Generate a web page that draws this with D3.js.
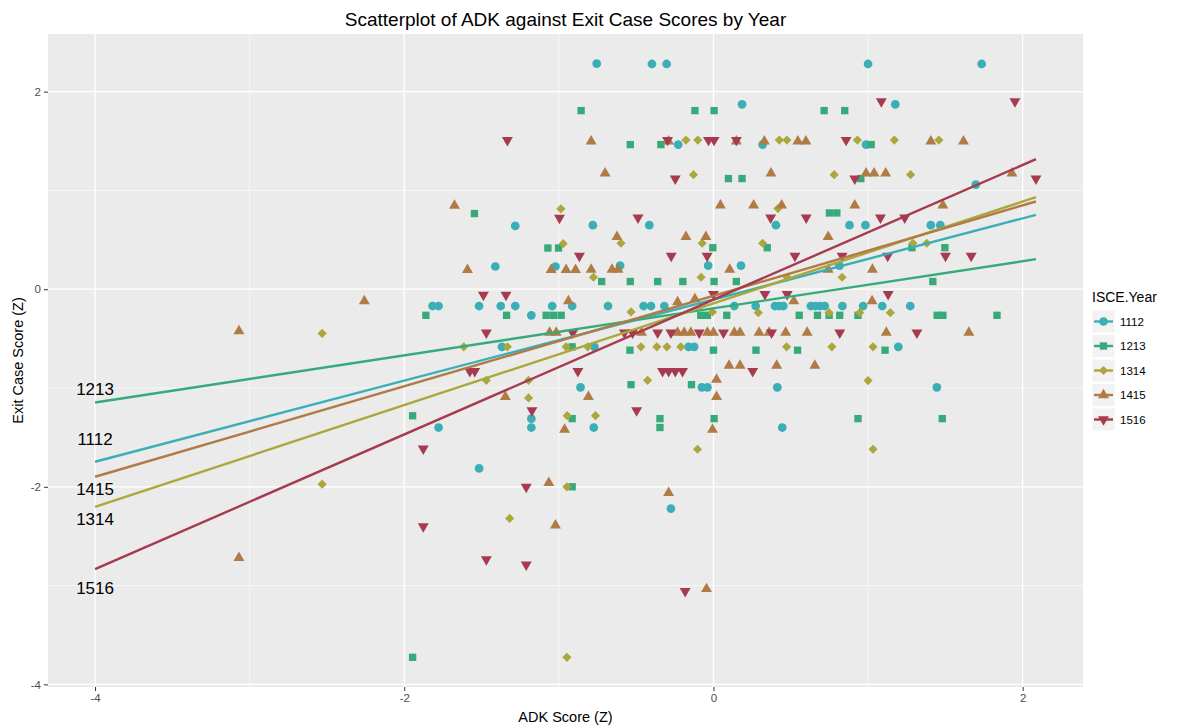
<!DOCTYPE html>
<html>
<head>
<meta charset="utf-8">
<script src="https://cdn.jsdelivr.net/npm/d3@7"></script>
<style>
  body { margin: 0; background: #fff; }
  text { font-family: "Liberation Sans", Arial, sans-serif; }
</style>
</head>
<body>
<div id="scatter"></div>
<script>
// categories
var years = ["1112", "1213", "1314", "1415", "1516"];
var colors = ["#3aafb6", "#37aa7a", "#aaa83c", "#b07b45", "#a63b50"];

// points for each year: [ADK score, exit case score]
var pts1112 = [[-0.755,2.283],[-0.398,2.28],[-0.303,2.28],[1.0,2.28],[1.735,2.28],[0.185,1.872],[1.176,1.872],
  [-0.228,1.464],[0.318,1.464],[0.987,1.464],[1.697,1.059],[-0.78,0.648],[-0.415,0.648],[0.404,0.648],[0.88,0.648],
  [0.983,0.648],[1.406,0.648],[1.467,0.648],[-0.604,0.239],[-0.034,0.239],[0.178,0.239],[0.815,0.239],
  [-1.282,0.641],[-1.411,0.23],[-1.022,0.23],
  [-1.817,-0.17],[-1.778,-0.17],[-1.516,-0.17],[-1.376,-0.17],[-1.282,-0.17],[-1.043,-0.17],[-0.914,-0.17],
  [-0.682,-0.17],[-0.452,-0.17],[-0.404,-0.17],[-0.318,-0.17],[-1.178,-0.264],[-1.368,-0.583],[-0.77,-0.583],
  [-0.161,-0.583],[-0.125,-0.583],[-0.86,-0.993],[-0.075,-0.993],[-0.039,-0.993],[-1.178,-1.31],[-1.778,-1.4],
  [-1.178,-1.4],[-0.774,-1.4],
  [0.135,-0.17],[0.273,-0.17],[0.398,-0.17],[0.426,-0.17],[0.452,-0.17],[0.63,-0.17],[0.66,-0.17],[0.688,-0.17],
  [0.72,-0.17],[0.834,-0.17],[0.968,-0.17],[1.092,-0.17],[1.273,-0.17],[1.196,-0.583],[0.413,-0.993],[1.445,-0.993],
  [0.445,-1.4],[-1.516,-1.814],[-0.275,-2.22]];
var pts1213 = [[-0.856,1.808],[-0.12,1.808],[0.004,1.808],[0.716,1.808],[0.849,1.808],[-0.538,1.464],[-0.34,1.464],
  [1.02,1.464],[0.097,1.12],[0.185,1.12],[0.953,1.12],[0.75,0.772],[0.798,0.772],[-0.004,0.42],[0.348,0.42],
  [1.284,0.42],[1.497,0.42],[-0.723,0.078],[-0.538,0.078],[-0.361,0.078],[-0.198,0.078],[0.004,0.078],[0.148,0.078],
  [1.419,0.078],[-1.546,0.766],[-1.071,0.417],[-1.002,0.417],
  [-1.86,-0.264],[-1.338,-0.264],[-1.082,-0.264],[-1.034,-0.264],[-0.985,-0.264],[-0.082,-0.264],[-0.039,-0.264],
  [-0.914,-0.583],[-0.54,-0.617],[0.0,-0.617],[-0.533,-0.966],[-0.142,-0.966],[-1.946,-1.281],[-0.914,-1.31],
  [-0.346,-1.31],[0.004,-1.31],[-0.346,-1.4],
  [0.086,-0.264],[0.555,-0.264],[0.673,-0.264],[0.748,-0.264],[0.817,-0.264],[0.935,-0.264],[1.447,-0.264],
  [1.484,-0.264],[1.834,-0.264],[0.275,-0.617],[0.544,-0.617],[1.11,-0.617],[0.935,-1.31],[1.48,-1.31],
  [-0.914,-2.0],[-1.946,-3.726]];
var pts1314 = [[-0.178,1.51],[-0.101,1.51],[0.426,1.51],[0.475,1.51],[0.931,1.51],[1.17,1.51],[1.458,1.51],
  [-0.129,1.16],[0.781,1.16],[1.275,1.16],[0.417,0.816],[-0.598,0.465],[-0.073,0.465],[0.318,0.465],[1.29,0.465],
  [1.38,0.465],[-0.776,0.121],[-0.08,0.121],[0.832,0.121],[0.477,0.121],[-0.987,0.814],[-0.972,0.461],
  [-0.533,-0.23],[-0.006,-0.23],[-1.615,-0.583],[-1.333,-0.583],[-0.953,-0.583],[-0.813,-0.583],[-0.469,-0.583],
  [-0.366,-0.583],[-0.301,-0.583],[-0.211,-0.583],[-1.469,-0.922],[-1.196,-0.922],[-0.426,-0.922],[-1.196,-1.1],
  [-0.946,-1.28],[-0.763,-1.28],
  [0.29,-0.237],[0.748,-0.237],[0.946,-0.237],[1.144,-0.237],[0.473,-0.583],[0.766,-0.583],[1.032,-0.583],
  [1.0,-0.925],[-0.103,-1.62],[-0.948,-2.0],[-1.318,-2.32],[-0.948,-3.726],[1.032,-1.62],[-2.531,-0.447],
  [-2.531,-1.973]];
var pts1415 = [[-0.791,1.497],[-0.29,1.497],[0.148,1.497],[0.329,1.497],[0.546,1.497],[0.598,1.497],[1.406,1.497],
  [1.617,1.497],[-0.701,1.174],[0.372,1.174],[0.987,1.174],[1.039,1.174],[1.114,1.174],[1.931,1.174],[0.045,0.85],
  [0.26,0.85],[0.441,0.85],[0.914,0.85],[1.484,0.85],[-0.624,0.53],[-0.178,0.53],[-0.049,0.53],[0.742,0.53],
  [-0.791,0.2],[-0.656,0.2],[-0.617,0.2],[0.105,0.2],[1.028,0.2],[0.742,0.2],
  [-1.675,0.847],[-1.591,0.197],[-1.05,0.197],[-0.953,0.197],[-0.892,0.197],
  [-0.938,-0.119],[-0.232,-0.129],[-0.12,-0.1],[-1.06,-0.44],[-1.017,-0.44],[-0.465,-0.44],[-0.232,-0.44],
  [-0.189,-0.44],[-0.146,-0.44],[-0.039,-0.44],[0.0,-0.44],[0.02,-0.915],[-1.346,-1.09],[-0.809,-1.09],[0.02,-1.09],
  [-0.963,-1.42],[-0.006,-1.42],
  [0.52,-0.12],[1.026,-0.12],[0.135,-0.44],[0.172,-0.44],[0.295,-0.44],[0.36,-0.44],[0.467,-0.44],[0.606,-0.44],
  [1.118,-0.44],[1.652,-0.44],[0.101,-0.773],[0.172,-0.773],[0.409,-0.773],[0.656,-0.773],
  [-1.065,-1.96],[-0.29,-2.06],[-1.022,-2.39],[-0.045,-3.034],[-2.258,-0.119],[-3.069,-0.424],[-3.069,-2.72]];
var pts1516 = [[1.086,1.9],[1.95,1.9],[-0.297,1.51],[-0.032,1.51],[0.004,1.51],[0.148,1.51],[0.858,1.51],
  [-0.247,1.12],[0.914,1.12],[2.086,1.12],[-0.488,0.725],[0.37,0.725],[0.6,0.725],[1.08,0.725],[1.237,0.725],
  [-0.867,0.337],[-0.273,0.337],[-0.041,0.337],[0.527,0.337],[0.832,0.337],[1.127,0.337],[1.501,0.337],
  [1.667,0.337],[0.0,-0.05],[0.333,-0.05],[0.477,-0.05],[1.13,-0.05],
  [-1.333,1.508],[-0.996,0.722],[-1.488,-0.058],[-1.342,-0.058],
  [-1.469,-0.44],[-0.91,-0.44],[-0.576,-0.44],[-0.523,-0.44],[-0.361,-0.44],[-0.275,-0.44],[-0.092,-0.44],
  [-1.576,-0.83],[-1.544,-0.83],[-0.877,-0.83],[-0.329,-0.83],[-0.29,-0.83],[-0.247,-0.83],[-0.2,-0.83],
  [-1.174,-1.227],[-0.497,-1.227],
  [0.065,-0.44],[0.376,-0.44],[0.817,-0.44],[1.316,-0.44],[0.254,-0.83],
  [-1.877,-1.615],[-1.211,-2.0],[-1.877,-2.4],[-1.469,-2.736],[-1.211,-2.787],[-0.183,-3.057]];

// fitted lines
var intercepts = [-0.104, -0.193, -0.143, -0.067, -0.106];
var slopes = [0.4106, 0.2383, 0.515, 0.4578, 0.682];

// year labels at x = -4
var labelX = -4;
var labelY = [-1.519, -1.01, -2.322, -2.017, -3.024];

// tick labels
var xTicks = [-4, -2, 0, 2];
var yTicks = [-4, -2, 0, 2];

// svg dimensions
var svgWidth = 1185;
var svgHeight = 726;
var margin = {top: 34, right: 102, bottom: 39, left: 48};
var width = svgWidth - margin.left - margin.right;
var height = svgHeight - margin.top - margin.bottom;

var svg = d3.select("#scatter")
  .append("svg")
  .attr("width", svgWidth)
  .attr("height", svgHeight);

var chartGroup = svg.append("g")
  .attr("transform", `translate(${margin.left}, ${margin.top})`);

var groups = [pts1112, pts1213, pts1314, pts1415, pts1516];
var allPts = d3.merge(groups);

// ggplot style 5% expansion
function expand(ext) {
  var pad = (ext[1] - ext[0]) * 0.05;
  return [ext[0] - pad, ext[1] + pad];
}
var xExt = d3.extent(allPts.map(d => d[0]).concat([labelX]));
var yExt = d3.extent(allPts, d => d[1]);

var xScale = d3.scaleLinear().domain(expand(xExt)).range([0, width]);
var yScale = d3.scaleLinear().domain(expand(yExt)).range([height, 0]);

// panel background
chartGroup.append("rect")
  .attr("width", width)
  .attr("height", height)
  .attr("fill", "#ebebeb");

// minor grid
var xMinor = [-3, -1, 1];
var yMinor = [-3, -1, 1];
chartGroup.selectAll(".xminor").data(xMinor).enter().append("line")
  .attr("x1", d => xScale(d)).attr("x2", d => xScale(d))
  .attr("y1", 0).attr("y2", height)
  .attr("stroke", "#fff").attr("stroke-width", 0.6);
chartGroup.selectAll(".yminor").data(yMinor).enter().append("line")
  .attr("y1", d => yScale(d)).attr("y2", d => yScale(d))
  .attr("x1", 0).attr("x2", width)
  .attr("stroke", "#fff").attr("stroke-width", 0.6);
// major grid
chartGroup.selectAll(".xmajor").data(xTicks).enter().append("line")
  .attr("x1", d => xScale(d)).attr("x2", d => xScale(d))
  .attr("y1", 0).attr("y2", height)
  .attr("stroke", "#fff").attr("stroke-width", 1.3);
chartGroup.selectAll(".ymajor").data(yTicks).enter().append("line")
  .attr("y1", d => yScale(d)).attr("y2", d => yScale(d))
  .attr("x1", 0).attr("x2", width)
  .attr("stroke", "#fff").attr("stroke-width", 1.3);

// axes
var bottomAxis = d3.axisBottom(xScale).tickValues(xTicks).tickSize(4).tickPadding(3)
  .tickFormat(d3.format("d"));
var leftAxis = d3.axisLeft(yScale).tickValues(yTicks).tickSize(4).tickPadding(3)
  .tickFormat(d3.format("d"));

var xAxis = chartGroup.append("g")
  .attr("transform", `translate(0, ${height})`)
  .call(bottomAxis);
var yAxis = chartGroup.append("g").call(leftAxis);
[xAxis, yAxis].forEach(function(ax) {
  ax.select(".domain").remove();
  ax.selectAll("line").attr("stroke", "#333");
  ax.selectAll("text")
    .attr("fill", "#4d4d4d")
    .style("font-size", "11.5px")
    .style("font-family", "'Liberation Sans', Arial, sans-serif")
    .text(d => d < 0 ? "-" + Math.abs(d) : d);
});

// point shapes
var shapes = [
  d3.symbol().type(d3.symbolCircle).size(60),
  d3.symbol().type(d3.symbolSquare).size(54),
  d3.symbol().type(d3.symbolSquare).size(42),
  d3.symbol().type(d3.symbolTriangle).size(52),
  d3.symbol().type(d3.symbolTriangle).size(52)
];
var rotations = [0, 0, 45, 0, 180];

groups.forEach(function(pts, i) {
  chartGroup.append("g")
    .selectAll("path")
    .data(pts)
    .enter()
    .append("path")
    .attr("d", shapes[i]())
    .attr("transform", d => `translate(${xScale(d[0])}, ${yScale(d[1])}) rotate(${rotations[i]})`)
    .attr("fill", colors[i]);
});

// regression lines
years.forEach(function(yr, i) {
  var lineData = xExt.map(x => [x, intercepts[i] + slopes[i] * x]);
  chartGroup.append("path")
    .datum(lineData)
    .attr("d", d3.line().x(d => xScale(d[0])).y(d => yScale(d[1])))
    .attr("stroke", colors[i])
    .attr("stroke-width", 2.4)
    .attr("fill", "none");
});

// year labels
chartGroup.selectAll(".yearLabel")
  .data(years)
  .enter()
  .append("text")
  .attr("x", xScale(labelX))
  .attr("y", (d, i) => yScale(labelY[i]))
  .attr("dy", "0.36em")
  .attr("text-anchor", "middle")
  .style("font-size", "17px")
  .attr("fill", "#000")
  .text(d => d);

// titles
svg.append("text")
  .attr("x", margin.left + width / 2)
  .attr("y", 26)
  .attr("text-anchor", "middle")
  .style("font-size", "19px")
  .text("Scatterplot of ADK against Exit Case Scores by Year");

svg.append("text")
  .attr("x", margin.left + width / 2)
  .attr("y", 722)
  .attr("text-anchor", "middle")
  .style("font-size", "14.5px")
  .text("ADK Score (Z)");

svg.append("text")
  .attr("transform", `translate(23, ${margin.top + height / 2}) rotate(-90)`)
  .attr("text-anchor", "middle")
  .style("font-size", "14.5px")
  .text("Exit Case Score (Z)");

// legend
var legend = svg.append("g").attr("transform", "translate(1092, 280)");
legend.append("text")
  .attr("x", 0)
  .attr("y", 22)
  .style("font-size", "14px")
  .text("ISCE.Year");

var keySize = 23;
var keys = legend.selectAll(".key")
  .data(years)
  .enter()
  .append("g")
  .attr("transform", (d, i) => `translate(0, ${30 + i * 24.5})`);
keys.append("rect")
  .attr("width", keySize).attr("height", keySize)
  .attr("fill", "#f2f2f2").attr("stroke", "#fff");
keys.append("line")
  .attr("x1", 2).attr("x2", keySize - 2)
  .attr("y1", keySize / 2).attr("y2", keySize / 2)
  .attr("stroke", (d, i) => colors[i])
  .attr("stroke-width", 2.4);
keys.append("path")
  .attr("d", (d, i) => shapes[i]())
  .attr("transform", (d, i) => `translate(${keySize / 2}, ${keySize / 2}) rotate(${rotations[i]})`)
  .attr("fill", (d, i) => colors[i]);
keys.append("text")
  .attr("x", keySize + 5)
  .attr("y", keySize / 2)
  .attr("dy", "0.36em")
  .style("font-size", "11.5px")
  .text(d => d);
</script>
</body>
</html>
